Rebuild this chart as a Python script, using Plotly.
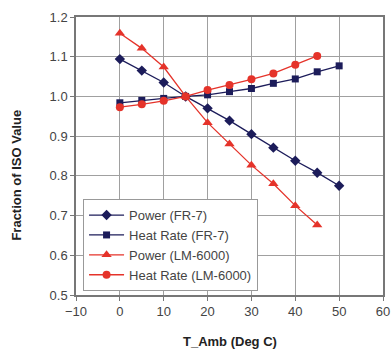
import plotly.graph_objects as go

t_amb = [0, 5, 10, 15, 20, 25, 30, 35, 40, 45, 50]
t_amb_lm = [0, 5, 10, 15, 20, 25, 30, 35, 40, 45]
power_fr7 = [1.094, 1.065, 1.035, 1.0, 0.970, 0.939, 0.905, 0.871, 0.838, 0.808, 0.775]
heat_fr7 = [0.984, 0.990, 0.995, 1.0, 1.004, 1.012, 1.020, 1.033, 1.044, 1.062, 1.077]
power_lm = [1.159, 1.121, 1.074, 1.0, 0.934, 0.880, 0.827, 0.780, 0.725, 0.676]
heat_lm = [0.973, 0.980, 0.989, 1.0, 1.016, 1.029, 1.043, 1.058, 1.080, 1.102]

navy = "#1c1c5a"
red = "#e5332a"

fig = go.Figure()
fig.add_trace(go.Scatter(x=t_amb, y=power_fr7, name="Power (FR-7)", mode="lines+markers",
                         line=dict(color=navy, width=1.3), marker=dict(symbol="diamond", size=8, color=navy)))
fig.add_trace(go.Scatter(x=t_amb, y=heat_fr7, name="Heat Rate (FR-7)", mode="lines+markers",
                         line=dict(color=navy, width=1.3), marker=dict(symbol="square", size=7, color=navy)))
fig.add_trace(go.Scatter(x=t_amb_lm, y=power_lm, name="Power (LM-6000)", mode="lines+markers",
                         line=dict(color=red, width=1.3), marker=dict(symbol="triangle-up", size=9, color=red)))
fig.add_trace(go.Scatter(x=t_amb_lm, y=heat_lm, name="Heat Rate (LM-6000)", mode="lines+markers",
                         line=dict(color=red, width=1.3), marker=dict(symbol="circle", size=8, color=red)))

font_family = "Liberation Sans, Arial, sans-serif"
fig.update_layout(
    width=391, height=351,
    margin=dict(l=76, r=8, t=17, b=56),
    paper_bgcolor="white", plot_bgcolor="white",
    font=dict(family=font_family, size=13, color="#444444"),
    showlegend=True,
    legend=dict(x=0.023, y=0.345, xanchor="left", yanchor="top",
                bgcolor="white", bordercolor="#999999", borderwidth=1,
                font=dict(size=13, color="#444444"), tracegroupgap=0,
                itemwidth=35),
    xaxis=dict(range=[-10, 60], dtick=10, tick0=-10, showgrid=True, gridcolor="#a0a0a0", gridwidth=1,
               showline=True, linecolor="#777777", mirror=True, linewidth=1.5,
               ticks="outside", ticklen=4, tickcolor="#777777", zeroline=False,
               ticklabeloverflow="allow", automargin=False),
    yaxis=dict(range=[0.5, 1.2], dtick=0.1, tickformat=".1f", showgrid=True, gridcolor="#a0a0a0", gridwidth=1,
               showline=True, linecolor="#777777", mirror=True, linewidth=1.5,
               ticks="outside", ticklen=4, tickcolor="#777777", zeroline=False,
               ticklabeloverflow="allow", automargin=False),
    annotations=[
        dict(text="<b>Fraction of ISO Value</b>", textangle=-90,
             xref="paper", yref="paper", x=-0.195, y=0.43,
             xanchor="center", yanchor="middle", showarrow=False,
             font=dict(size=13, color="#222222")),
        dict(text="<b>T_Amb (Deg C)</b>",
             xref="paper", yref="paper", x=0.5, y=-0.169,
             xanchor="center", yanchor="middle", showarrow=False,
             font=dict(size=13, color="#222222")),
    ],
)

fig.write_html("out.html", config={"displayModeBar": False},
               post_script="document.body.style.margin='0';")
